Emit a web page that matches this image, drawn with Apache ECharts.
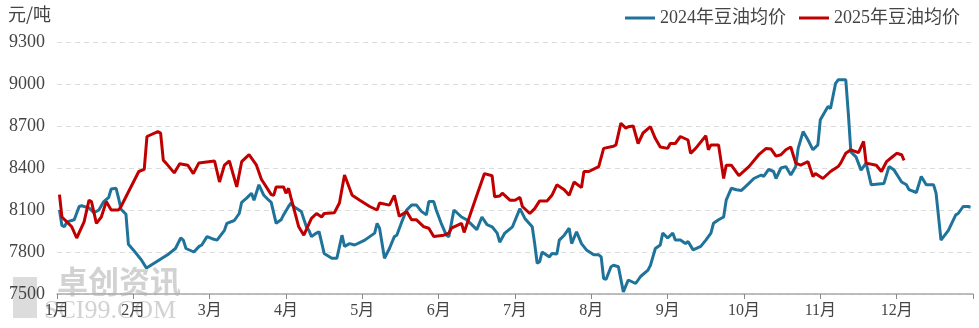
<!DOCTYPE html>
<html>
<head>
<meta charset="utf-8">
<script src="https://cdn.jsdelivr.net/npm/echarts@6/dist/echarts.min.js"></script>
<style>
  html, body { margin: 0; padding: 0; background: #fff; }
  #chart { width: 979px; height: 328px; }
</style>
</head>
<body>
<div id="chart"></div>
<script>
// Soybean oil average price, daily, yuan per tonne
const monthLabels = ['1月','2月','3月','4月','5月','6月','7月','8月','9月','10月','11月','12月'];
const yTicks = [7500, 7800, 8100, 8400, 8700, 9000, 9300];
const seriesNames = ['2024年豆油均价', '2025年豆油均价'];

const dates2024 = [
  '01-02','01-03','01-04','01-05','01-08','01-10','01-11','01-14','01-16','01-18','01-20','01-22','01-23','01-25','01-26','01-27','01-29','01-30',
  '02-01','02-04','02-06','02-14','02-17','02-19','02-20','02-21','02-24','02-26','02-27','02-29',
  '03-02','03-04','03-07','03-08','03-11','03-13','03-14','03-16','03-18','03-19','03-21','03-23','03-25','03-26','03-28','03-30','03-31',
  '04-02','04-03','04-04','04-07','04-09','04-10','04-11','04-13','04-14','04-16','04-19','04-21','04-23','04-24','04-26','04-28',
  '05-02','05-06','05-07','05-08','05-10','05-12','05-14','05-15','05-17','05-19','05-21','05-23','05-25','05-27','05-28','05-30','05-31',
  '06-02','06-04','06-05','06-07','06-10','06-12','06-14','06-16','06-18','06-20','06-22','06-24','06-25','06-27','06-30',
  '07-03','07-05','07-08','07-09','07-10','07-11','07-12','07-15','07-16','07-18','07-19','07-21','07-23','07-24','07-26','07-28','07-30',
  '08-02','08-04','08-05','08-06','08-07','08-09','08-10','08-12','08-14','08-16','08-19','08-21','08-24','08-25','08-27','08-29','08-30',
  '09-01','09-03','09-04','09-06','09-08','09-09','09-11','09-14','09-16','09-18','09-19','09-21','09-23','09-24','09-26','09-28','09-30',
  '10-03','10-05','10-08','10-09','10-11','10-13','10-14','10-16','10-18','10-20','10-22','10-23','10-25','10-27','10-29','10-31',
  '11-01','11-04','11-05','11-07','11-08','11-11','11-12','11-13','11-15','11-17','11-19','11-21','11-26','11-28','11-30',
  '12-03','12-05','12-06','12-09','12-11','12-13','12-16','12-17','12-19','12-22','12-25','12-26','12-28','12-30','12-31'
];
const prices2024 = [
  8100,7990,7980,8015,8030,8125,8130,8115,8080,8100,8160,8190,8250,8255,8185,8105,8070,7855,
  7815,7745,7685,7780,7825,7900,7885,7825,7800,7840,7850,7910,
  7895,7885,7955,8005,8025,8075,8155,8185,8220,8170,8280,8205,8170,8155,8005,8030,8065,
  8125,8150,8125,8090,7980,7955,7910,7935,7945,7790,7755,7755,7920,7840,7860,7850,
  7885,7935,8005,7970,7755,7825,7910,7920,8015,8100,8135,8135,8090,8065,8160,8160,8100,
  8005,7920,7910,8100,8050,8030,7995,7960,8050,7995,7980,7935,7870,7935,7980,
  8110,8040,7980,7860,7720,7730,7800,7765,7790,7785,7885,7920,7970,7860,7945,7860,7815,
  7780,7780,7765,7610,7605,7695,7705,7695,7515,7600,7575,7625,7670,7705,7825,7850,7935,
  7900,7935,7885,7885,7860,7875,7815,7840,7885,7935,8005,8030,8050,8170,8255,8245,8240,
  8290,8325,8350,8340,8390,8375,8325,8400,8410,8350,8410,8540,8660,8600,8530,8565,
  8745,8840,8825,9005,9030,9030,8790,8515,8480,8385,8435,8280,8290,8410,8385,
  8300,8280,8245,8225,8340,8280,8280,8220,7885,7955,8065,8075,8125,8125,8120
];

const dates2025 = [
  '01-02','01-03','01-05','01-07','01-09','01-12','01-14','01-15','01-17','01-19','01-21','01-23','01-26','01-27',
  '02-03','02-05','02-06','02-10','02-11','02-12','02-13','02-16','02-18','02-21','02-23','02-25',
  '03-03','03-05','03-07','03-09','03-12','03-14','03-17','03-20','03-22','03-26','03-27','03-28','03-31',
  '04-01','04-02','04-03','04-06','04-08','04-11','04-13','04-15','04-16','04-20','04-22','04-24','04-27','04-30',
  '05-04','05-07','05-08','05-12','05-14','05-16','05-19','05-21','05-23','05-26','05-28','05-30',
  '06-03','06-05','06-06','06-10','06-11','06-14','06-16','06-19','06-22','06-23','06-25','06-26','06-29',
  '07-01','07-03','07-04','07-07','07-09','07-11','07-14','07-16','07-18','07-21','07-23','07-25','07-28','07-29','07-31',
  '08-04','08-06','08-10','08-11','08-13','08-15','08-16','08-18','08-20','08-22','08-25','08-27','08-29',
  '09-01','09-02','09-04','09-06','09-09','09-10','09-12','09-16','09-17','09-18','09-21','09-23','09-24','09-26','09-29',
  '10-03','10-07','10-10','10-12','10-14','10-16','10-18','10-20','10-22','10-24','10-27','10-29','10-30',
  '11-02','11-05','11-08','11-09','11-11','11-13','11-16','11-18','11-19','11-23','11-25','11-27','11-29',
  '12-01','12-03','12-04'
];
const prices2025 = [
  8210,8050,8015,7980,7900,8015,8170,8160,8005,8050,8160,8100,8100,8125,
  8375,8390,8625,8660,8650,8455,8435,8365,8430,8420,8360,8435,
  8450,8300,8420,8450,8265,8445,8495,8420,8320,8210,8205,8265,8265,
  8220,8255,8185,7980,7920,8040,8075,8050,8075,8080,8150,8350,8205,8170,
  8125,8100,8150,8135,8205,8055,8090,8030,8030,7980,7970,7910,
  7920,7935,7970,8005,7940,8100,8205,8360,8345,8195,8200,8220,8170,
  8170,8190,8125,8075,8110,8165,8165,8205,8280,8245,8205,8300,8260,8375,8375,
  8410,8540,8555,8565,8720,8685,8695,8700,8575,8650,8695,8610,8550,
  8540,8575,8575,8625,8600,8505,8540,8630,8530,8565,8565,8325,8420,8420,8345,
  8410,8495,8540,8535,8485,8495,8530,8550,8435,8420,8445,8340,8360,
  8325,8375,8410,8435,8505,8530,8510,8590,8435,8420,8375,8445,8475,
  8505,8495,8455
];

// Each month takes one equal slot on the x axis; a date sits inside its month's slot.
function daysInMonth(year, month) { return new Date(year, month, 0).getDate(); }
function toPoints(year, dates, values) {
  return dates.map(function (md, i) {
    const parts = md.split('-').map(Number);
    const m = parts[0], d = parts[1];
    return [m - 1 + (d - 1) / daysInMonth(year, m), values[i]];
  });
}

const serifFont = '"Liberation Serif", "Noto Sans CJK SC", serif';
const textColor = '#444';

const chart = echarts.init(document.getElementById('chart'), null, { renderer: 'canvas' });
chart.setOption({
  animation: false,
  backgroundColor: '#fff',
  grid: { left: 57, right: 6, top: 42, bottom: 34, containLabel: false },
  legend: {
    right: 14,
    top: 4,
    itemWidth: 30,
    itemHeight: 3,
    itemGap: 13,
    icon: 'rect',
    textStyle: { fontSize: 18, color: textColor, fontFamily: serifFont },
    data: seriesNames
  },
  graphic: [
    { type: 'text', left: 8, top: 5, style: { text: '元/吨', fontSize: 18, fill: textColor, fontFamily: '"Noto Sans CJK SC", sans-serif' } },
    // brand mark in the lower-left corner
    { type: 'rect', z: 0, shape: { x: 13, y: 277, width: 24, height: 41 }, style: { fill: '#dcdcdc' } },
    { type: 'text', z: 0, left: 57, top: 266, style: { text: '卓创资讯', fontSize: 31, fontWeight: 'bold', fill: '#d2d2d2', fontFamily: '"Noto Sans CJK SC", sans-serif' } },
    { type: 'text', z: 0, left: 44, top: 298, style: { text: 'SCI99.COM', fontSize: 26, fill: '#d2d2d2', fontFamily: serifFont } }
  ],
  xAxis: {
    type: 'value',
    min: 0,
    max: 12,
    interval: 1,
    axisLine: { show: true, lineStyle: { color: '#aaa', width: 1.5 } },
    axisTick: { show: true, length: 5, lineStyle: { color: '#888' } },
    axisLabel: {
      margin: 9,
      fontSize: 16,
      color: textColor,
      fontFamily: serifFont,
      formatter: function (v) { return v < 12 ? monthLabels[v] : ''; }
    },
    splitLine: { show: false }
  },
  yAxis: {
    type: 'value',
    min: yTicks[0],
    max: yTicks[yTicks.length - 1],
    interval: yTicks[1] - yTicks[0],
    axisLine: { show: false },
    axisTick: { show: false },
    axisLabel: {
      margin: 12,
      fontSize: 18,
      color: textColor,
      fontFamily: serifFont,
      formatter: function (v) { return String(v); }
    },
    splitLine: { show: true, lineStyle: { color: '#dcdcdc', type: [5, 4], width: 1 } }
  },
  series: [
    {
      name: seriesNames[0],
      type: 'line',
      showSymbol: false,
      color: '#1f739b',
      lineStyle: { width: 3, color: '#1f739b' },
      data: toPoints(2024, dates2024, prices2024)
    },
    {
      name: seriesNames[1],
      type: 'line',
      showSymbol: false,
      color: '#c00000',
      lineStyle: { width: 3, color: '#c00000' },
      data: toPoints(2025, dates2025, prices2025)
    }
  ]
});
</script>
</body>
</html>
